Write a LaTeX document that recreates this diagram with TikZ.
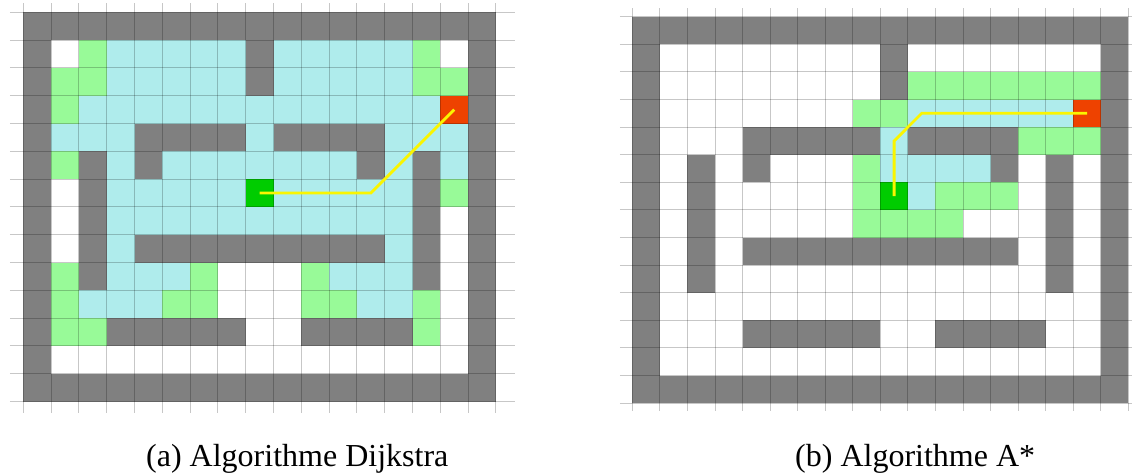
\documentclass[tikz,border=0pt]{standalone}
\usepackage{fontspec}
\setmainfont{Liberation Serif}
\definecolor{wallgrey}{RGB}{128,128,128}
\definecolor{visitcyan}{RGB}{175,236,236}
\definecolor{frontgreen}{RGB}{152,250,152}
\definecolor{startgreen}{RGB}{0,204,0}
\definecolor{goalred}{RGB}{238,66,0}
\definecolor{pathyellow}{RGB}{250,245,0}
\tikzset{
  wall/.style={fill=wallgrey},
  visited/.style={fill=visitcyan},
  frontier/.style={fill=frontgreen},
  startcell/.style={fill=startgreen},
  goalcell/.style={fill=goalred},
  freecell/.style={fill=white},
  gridline/.style={draw=black,draw opacity=0.22,line width=0.9pt},
  route/.style={draw=pathyellow,line width=2.8pt,line join=miter},
  caption/.style={inner sep=0pt,anchor=base west,font=\fontsize{32}{38}\selectfont}
}
\begin{document}
\begin{tikzpicture}[x=1pt,y=-1pt]
\useasboundingbox (0,0) rectangle (1132,472);
\fill[white] (0,0) rectangle (1132,472);
% ---------- (a) Dijkstra ----------
\begin{scope}[xshift=23.3pt,yshift=-12.3pt,x=27.8pt,y=-27.8pt]
  \path[visited] (1,1) rectangle (16,13);
  \foreach \a/\b/\c/\d in {1/1/2/2, 15/1/16/2, 1/6/2/9, 7/9/10/11, 8/11/10/12, 1/12/16/13, 15/7/16/12}
    \path[freecell] (\a,\b) rectangle (\c,\d);
  \foreach \a/\b in {2/1,14/1,1/2,2/2,14/2,15/2,1/3,1/5,15/6,1/9,6/9,10/9,1/10,5/10,6/10,10/10,11/10,14/10,1/11,2/11,14/11}
    \path[frontier] (\a,\b) rectangle ++(1,1);
  \foreach \a/\b/\c/\d in {0/0/17/1, 0/13/17/14, 0/0/1/14, 16/0/17/14, 8/1/9/3, 4/4/8/5, 9/4/13/5, 4/5/5/6, 12/5/13/6, 2/5/3/10, 14/5/15/10, 4/8/13/9, 3/11/8/12, 10/11/14/12}
    \path[wall] (\a,\b) rectangle (\c,\d);
  \path[startcell] (8,6) rectangle ++(1,1);
  \path[goalcell] (15,3) rectangle ++(1,1);
  \foreach \k in {0,...,17} \draw[gridline] (\k,-0.33) -- (\k,14.4);
  \foreach \k in {0,...,14} \draw[gridline] (-0.48,\k) -- (17.7,\k);
  \draw[route] (8.5,6.5) -- (12.5,6.5) -- (15.5,3.5);
\end{scope}
% ---------- (b) A* ----------
\begin{scope}[xshift=632.3pt,yshift=-16.7pt,x=27.56pt,y=-27.6pt]
  \foreach \a/\b/\c/\d in {10/2/17/3, 8/3/10/4, 14/4/17/5, 8/5/9/7, 11/6/14/7, 8/7/12/8}
    \path[frontier] (\a,\b) rectangle (\c,\d);
  \foreach \a/\b/\c/\d in {10/3/16/4, 9/4/10/5, 9/5/13/6, 10/6/11/7}
    \path[visited] (\a,\b) rectangle (\c,\d);
  \foreach \a/\b/\c/\d in {0/0/18/1, 0/13/18/14, 0/0/1/14, 17/0/18/14, 9/1/10/3, 4/4/9/5, 10/4/14/5, 4/5/5/6, 13/5/14/6, 2/5/3/10, 15/5/16/10, 4/8/14/9, 4/11/9/12, 11/11/15/12}
    \path[wall] (\a,\b) rectangle (\c,\d);
  \path[startcell] (9,6) rectangle ++(1,1);
  \path[goalcell] (16,3) rectangle ++(1,1);
  \foreach \k in {0,...,18} \draw[gridline] (\k,-0.3) -- (\k,14.3);
  \foreach \k in {0,...,14} \draw[gridline] (-0.45,\k) -- (18.2,\k);
  \draw[route] (9.5,6.5) -- (9.5,4.5) -- (10.5,3.5) -- (16.5,3.5);
\end{scope}
\node[caption] (capA) at (146,466.7) {(a) Algorithme Dijkstra};
\node[caption] (capB) at (795,466.7) {(b) Algorithme A*};
\end{tikzpicture}
\end{document}
